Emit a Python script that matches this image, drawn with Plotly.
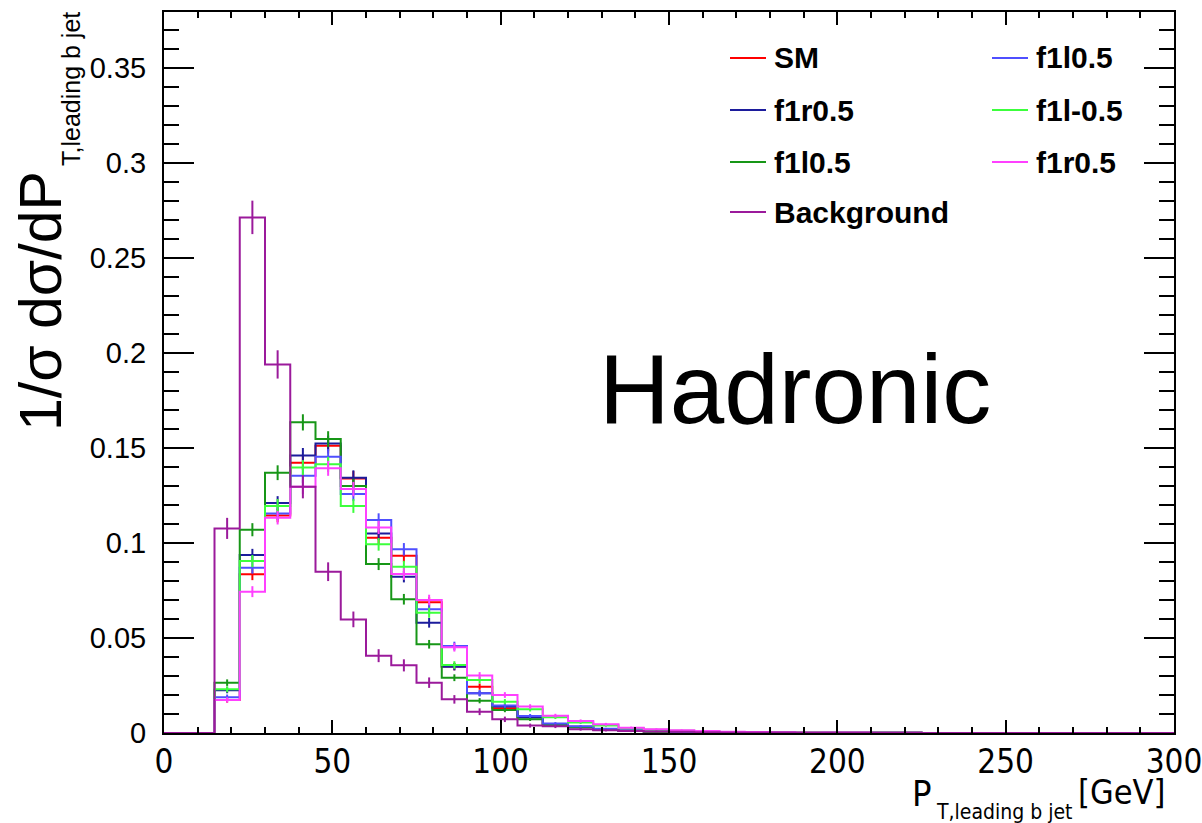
import plotly.graph_objects as go
import numpy as np

# ---------------- data ----------------
bin_width = 7.5
x_start = 15.0          # first filled bin edge (GeV); histogram covers 0-300 GeV
x_min, x_max = 0.0, 300.0

series_names = ["SM", "f1r0.5", "f1l0.5", "f1l0.5", "f1l-0.5", "f1r0.5", "Background"]
series_colors = ["#ff0000", "#1c1c9c", "#179617", "#4f4fff", "#3cff3c", "#ff40ff", "#9b1a9b"]

sm = [0.0174, 0.0835, 0.1145, 0.1423, 0.1512, 0.1340, 0.1028, 0.0933, 0.0688, 0.0350,
      0.0244, 0.0130, 0.0086, 0.0045, 0.0033, 0.0020, 0.0013, 0.0009, 0.0006, 0.0004,
      0.0003, 0.0002, 0.0002, 0.0001, 0.0001, 0.0001, 0.0001, 0.0001]
f1r_navy = [0.0225, 0.0937, 0.1210, 0.1460, 0.1524, 0.1344, 0.1050, 0.0823, 0.0580, 0.0349,
            0.0209, 0.0139, 0.0081, 0.0042, 0.0030, 0.0018, 0.0012, 0.0008, 0.0005, 0.0004,
            0.0003, 0.0002, 0.0001, 0.0001, 0.0001, 0.0001, 0.0001, 0.0001]
f1l_green = [0.0265, 0.1070, 0.1370, 0.1635, 0.1547, 0.1300, 0.0889, 0.0704, 0.0467, 0.0291,
             0.0170, 0.0121, 0.0072, 0.0042, 0.0030, 0.0018, 0.0011, 0.0007, 0.0005, 0.0003,
             0.0002, 0.0001, 0.0001, 0.0001, 0.0001, 0.0001, 0.0001, 0.0001]
f1l_blue = [0.0188, 0.0870, 0.1156, 0.1354, 0.1454, 0.1258, 0.1121, 0.0967, 0.0651, 0.0458,
            0.0209, 0.0145, 0.0090, 0.0050, 0.0035, 0.0022, 0.0015, 0.0010, 0.0007, 0.0005,
            0.0003, 0.0002, 0.0002, 0.0001, 0.0001, 0.0001, 0.0001, 0.0001]
f1lm_lgreen = [0.0230, 0.0905, 0.1195, 0.1397, 0.1414, 0.1195, 0.0993, 0.0875, 0.0633, 0.0358,
               0.0279, 0.0165, 0.0125, 0.0083, 0.0055, 0.0040, 0.0025, 0.0017, 0.0012, 0.0008,
               0.0005, 0.0003, 0.0002, 0.0002, 0.0001, 0.0001, 0.0001, 0.0001]
f1r_magenta = [0.0174, 0.0744, 0.1133, 0.1296, 0.1393, 0.1284, 0.1082, 0.0837, 0.0700, 0.0451,
               0.0302, 0.0200, 0.0139, 0.0091, 0.0063, 0.0046, 0.0028, 0.0020, 0.0015, 0.0010,
               0.0007, 0.0005, 0.0004, 0.0003, 0.0002, 0.0002, 0.0001, 0.0001]
background = [0.1077, 0.2714, 0.1940, 0.1296, 0.0849, 0.0598, 0.0407, 0.0356, 0.0265, 0.0177,
              0.0112, 0.0072, 0.0039, 0.0036, 0.0020, 0.0015, 0.0010, 0.0008, 0.0006, 0.0004,
              0.0003, 0.0002, 0.0002, 0.0001, 0.0001, 0.0001, 0.0001, 0.0001]

series_values = [sm, f1r_navy, f1l_green, f1l_blue, f1lm_lgreen, f1r_magenta, background]
# effective event counts used for the statistical error bars
series_events = [9000, 9000, 9000, 9000, 9000, 9000, 3500]

y_tick_vals = [0, 0.05, 0.1, 0.15, 0.2, 0.25, 0.3, 0.35]
y_tick_text = ["0", "0.05", "0.1", "0.15", "0.2", "0.25", "0.3", "0.35"]
x_tick_vals = [0, 50, 100, 150, 200, 250, 300]
x_tick_text = ["0", "50", "100", "150", "200", "250", "300"]

# legend layout: (column, row) for each series
legend_slots = [(0, 0), (0, 1), (0, 2), (1, 0), (1, 1), (1, 2), (0, 3)]

# ---------------- figure ----------------
W, H = 1202, 823
ml, mr, mt, mb = 164, 28, 12, 90
fig = go.Figure()

edges_all = np.arange(x_min, x_max + bin_width / 2, bin_width)
n_bins = len(edges_all) - 1
first = int(round((x_start - x_min) / bin_width))

for name, col, vals, nev in zip(series_names, series_colors, series_values, series_events):
    full = np.zeros(n_bins)
    full[first:first + len(vals)] = vals
    xs = list(edges_all[:-1]) + [edges_all[-1]]
    ys = list(full) + [full[-1]]
    fig.add_trace(go.Scatter(x=xs, y=ys, mode="lines", line=dict(color=col, width=2, shape="hv"),
                             showlegend=False, hoverinfo="skip"))
    v = np.array(vals)
    centers = x_start + bin_width * (np.arange(len(v)) + 0.5)
    mask = v > 0.0004
    errs = np.sqrt(v[mask] / nev)
    fig.add_trace(go.Scatter(x=centers[mask], y=v[mask], mode="markers",
                             marker=dict(size=1, color="rgba(0,0,0,0)"),
                             error_y=dict(type="data", array=errs, width=0, thickness=2, color=col),
                             showlegend=False, hoverinfo="skip"))

pw, ph = W - ml - mr, H - mt - mb
def px_x(p):
    return (p - ml) / pw
def px_y(p):
    return (H - mb - p) / ph

SANS = "Liberation Sans, Arial, sans-serif"
NARROW = "Liberation Sans Narrow, DejaVu Sans Condensed, Liberation Sans, sans-serif"

# manual legend (two columns)
col_line_x = [730, 992]
row_y = [58, 110, 162, 212]
for name, col, (c, r) in zip(series_names, series_colors, legend_slots):
    yy = px_y(row_y[r])
    fig.add_shape(type="line", xref="paper", yref="paper",
                  x0=px_x(col_line_x[c]), x1=px_x(col_line_x[c] + 36), y0=yy, y1=yy,
                  line=dict(color=col, width=2))
    fig.add_annotation(xref="paper", yref="paper", x=px_x(col_line_x[c] + 42), y=yy,
                       text="<b>%s</b>" % name, showarrow=False, xanchor="left", yanchor="middle",
                       font=dict(family=SANS, size=30, color="black"))

fig.add_annotation(xref="paper", yref="paper", x=px_x(795), y=px_y(389), text="Hadronic",
                   showarrow=False, xanchor="center", yanchor="middle",
                   font=dict(family=SANS, size=98, color="black"))

# y-axis title (main part + subscript)
fig.add_annotation(xref="paper", yref="paper", x=px_x(6), y=px_y(433),
                   text="1/σ dσ/dP", textangle=-90,
                   showarrow=False, xanchor="left", yanchor="bottom",
                   font=dict(family=SANS, size=59, color="black"))
fig.add_annotation(xref="paper", yref="paper", x=px_x(55), y=px_y(168),
                   text="T,leading b jet", textangle=-90,
                   showarrow=False, xanchor="left", yanchor="bottom",
                   font=dict(family=SANS, size=25, color="black"))

# x-axis title (main part + subscript + unit)
fig.add_annotation(xref="paper", yref="paper", x=px_x(910), y=px_y(816),
                   text="P", showarrow=False, xanchor="left", yanchor="bottom",
                   font=dict(family=NARROW, size=36, color="black"))
fig.add_annotation(xref="paper", yref="paper", x=px_x(934), y=px_y(826),
                   text="T,leading b jet", showarrow=False, xanchor="left", yanchor="bottom",
                   font=dict(family=NARROW, size=21, color="black"))
fig.add_annotation(xref="paper", yref="paper", x=px_x(1167), y=px_y(814),
                   text="[GeV]", showarrow=False, xanchor="right", yanchor="bottom",
                   font=dict(family=NARROW, size=34, color="black"))

axis_common = dict(showline=True, linewidth=2, linecolor="black", mirror="ticks",
                   ticks="inside", tickcolor="black", tickwidth=2, showgrid=False, zeroline=False,
                   automargin=False, ticklabeloverflow="allow")

fig.update_xaxes(range=[x_min, x_max], tickvals=x_tick_vals, ticktext=x_tick_text, ticklen=13,
                 minor=dict(dtick=10, ticklen=6, ticks="inside", tickcolor="black", tickwidth=2, showgrid=False),
                 tickfont=dict(family=NARROW, size=33, color="black"),
                 ticklabelstandoff=-2, **axis_common)
fig.update_yaxes(range=[0, 0.3795], tickvals=y_tick_vals, ticktext=y_tick_text, ticklen=30,
                 minor=dict(dtick=0.01, ticklen=15, ticks="inside", tickcolor="black", tickwidth=2, showgrid=False),
                 tickfont=dict(family=SANS, size=29, color="black"),
                 ticklabelstandoff=10, **axis_common)

fig.update_layout(width=W, height=H, margin=dict(l=ml, r=mr, t=mt, b=mb),
                  plot_bgcolor="white", paper_bgcolor="white", showlegend=False)

fig.write_html("out.html")
